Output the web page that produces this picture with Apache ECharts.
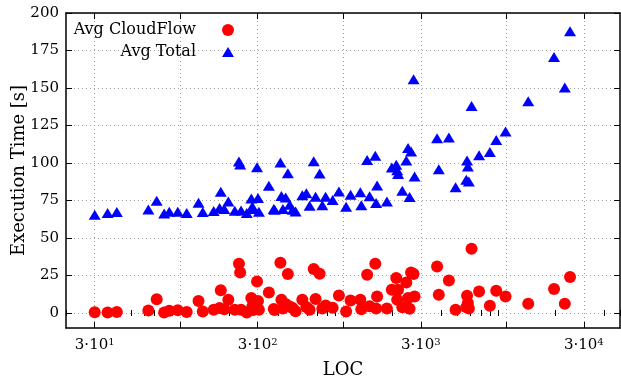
<!DOCTYPE html>
<html><head><meta charset="utf-8">
<script src="https://cdn.jsdelivr.net/npm/echarts@6/dist/echarts.min.js"></script>
<style>html,body{margin:0;padding:0;background:#fff}#c{width:621px;height:379px}</style>
</head><body><div id="c"></div>
<script>
// LOC per project, with average CloudFlow time and average total time [s]
const loc = [30,36,41,64,72,80,86,97,110,130,138,161,175,178,187,198,217,230,234,237,257,274,278,281,297,301,305,351,376,381,413,419,428,445,459,471,491,512,563,596,624,661,679,719,747,782,864,944,1045,1113,1277,1295,1406,1456,1578,1596,1619,1859,1993,2122,2150,2177,2310,2444,2507,2561,2616,2710,2748,3776,3868,4461,4905,5704,5767,5833,5915,6145,6834,7957,8706,9933,13681,19699,22934,24690];
const cloudFlow = [0.5,0.4,0.6,1.6,9.2,0.3,1.5,1.8,0.6,8,1,2.2,3.3,15.2,2.5,8.9,2.2,32.8,27,2.2,0.4,10,4.4,2,21,8,2.2,13.7,2.7,2,33.5,8.9,3,6,26,4.4,3.3,1.1,8.9,4,2.2,29.3,9.3,26.2,3,5,3.5,11.7,1,8.4,8.9,2.5,25.5,4.5,32.8,3,11,3,15.5,23.3,8.9,15.5,3.8,20.4,10,2.9,27,26,11,31,12.2,21.7,2.2,3.8,11.5,6.7,3,42.8,14.4,4.9,14.9,11,6.2,16,6.2,24];
const total = [65.5,66.6,67.3,69,74.8,66.3,67.5,67.5,66.6,73.5,67.3,68,70,80.8,69.3,74.3,68.1,101,99,68.3,66.6,76.3,71,69.3,97.2,76.6,67.5,84.8,69.3,68.8,100.3,78,69.3,77,93.2,72.1,68.8,67.7,78.5,79.9,71.5,101.2,77.5,93,71.8,77.5,75.3,81,70.8,78.8,80.5,71.8,102,77.8,104.8,73.3,85,74.3,97,98.8,95.2,92.7,81.5,101.6,110,77.3,107.6,155.8,91,116.5,95.8,117,83.8,88.8,101.6,97.6,87.6,138,105.2,107.4,115.4,121,141.2,170.7,150.4,187.8];

const xMajorTicks = [30,100,300,1000,3000,10000,30000];
const xMinorTicks = [20,40,50,60,70,80,90,200,400,500,600,700,800,900,2000,4000,5000,6000,7000,8000,9000,20000,40000,50000];
const xTickLabels = [30,300,3000,30000];
const yTicks = [0,25,50,75,100,125,150,175,200];

const FONT = 'DejaVu Serif';
const gridLine = {show:true, lineStyle:{color:'#a0a0a0', width:1, type:[1,3]}};
const frame = {show:true, onZero:false, lineStyle:{color:'#000', width:1.5}};

function supLabel(v){
  const e = Math.round(Math.log10(v/3));
  return '3·10{s|' + e + '}';
}
function xAxisDef(pos, major, withLabels){
  return {
    type:'log', logBase:10, min:20, max:50000, position:pos,
    axisLine: major ? frame : {show:false},
    axisTick:{show:true, inside:true, length: major ? 6 : 3, customValues: major ? xMajorTicks : xMinorTicks, lineStyle:{color:'#000', width:1}},
    axisLabel: withLabels ? {show:true, customValues:xTickLabels, formatter:supLabel, margin:9, color:'#000', fontFamily:FONT, fontSize:15,
      rich:{s:{fontSize:10, fontFamily:FONT, color:'#000', verticalAlign:'top', padding:[0,0,7,0]}}} : {show:false},
    splitLine: (major && withLabels) ? gridLine : {show:false},
    name: withLabels ? 'LOC' : '', nameLocation:'middle', nameGap:33, nameMoveOverlap:false,
    nameTextStyle:{fontFamily:FONT, fontSize:18, color:'#000'}
  };
}
const legendText = {fontFamily:FONT, fontSize:16, color:'#000', padding:[0,21,0,0]};

const chart = echarts.init(document.getElementById('c'), null, {renderer:'canvas'});
chart.setOption({
  animation:false,
  backgroundColor:'#fff',
  grid:{left:66, right:1, top:13, bottom:51, outerBoundsMode:'none'},
  legend:[
    {data:[{name:'Avg CloudFlow', icon:'circle'}], orient:'vertical', align:'right', right:387, top:22, padding:0,
     itemWidth:12, itemHeight:12, textStyle:legendText},
    {data:[{name:'Avg Total', icon:'triangle'}], orient:'vertical', align:'right', right:387, top:44, padding:0,
     itemWidth:12, itemHeight:10, symbolKeepAspect:false, textStyle:legendText}
  ],
  xAxis:[xAxisDef('bottom',true,true), xAxisDef('bottom',false,false), xAxisDef('top',true,false), xAxisDef('top',false,false)],
  yAxis:[
    {type:'value', min:-10, max:200, position:'left', axisLine:frame,
     axisTick:{show:true, inside:true, length:6, customValues:yTicks, lineStyle:{color:'#000'}},
     axisLabel:{show:true, customValues:yTicks, margin:7, color:'#000', fontFamily:FONT, fontSize:15},
     splitLine:gridLine,
     name:'Execution Time [s]', nameLocation:'middle', nameGap:38, nameMoveOverlap:false,
     nameTextStyle:{fontFamily:FONT, fontSize:18, color:'#000'}},
    {type:'value', min:-10, max:200, position:'right', axisLine:frame,
     axisTick:{show:true, inside:true, length:6, customValues:yTicks, lineStyle:{color:'#000'}},
     axisLabel:{show:false}, splitLine:{show:false}}
  ],
  series:[
    {name:'Avg CloudFlow', type:'scatter', xAxisIndex:0, yAxisIndex:0, symbol:'circle', symbolSize:12,
     itemStyle:{color:'#ff0000', opacity:1}, data: loc.map((x,i)=>[x, cloudFlow[i]])},
    {name:'Avg Total', type:'scatter', xAxisIndex:0, yAxisIndex:0, symbol:'triangle', symbolSize:[12,10],
     itemStyle:{color:'#0000ff', opacity:1}, data: loc.map((x,i)=>[x, total[i]])}
  ]
});
</script></body></html>
